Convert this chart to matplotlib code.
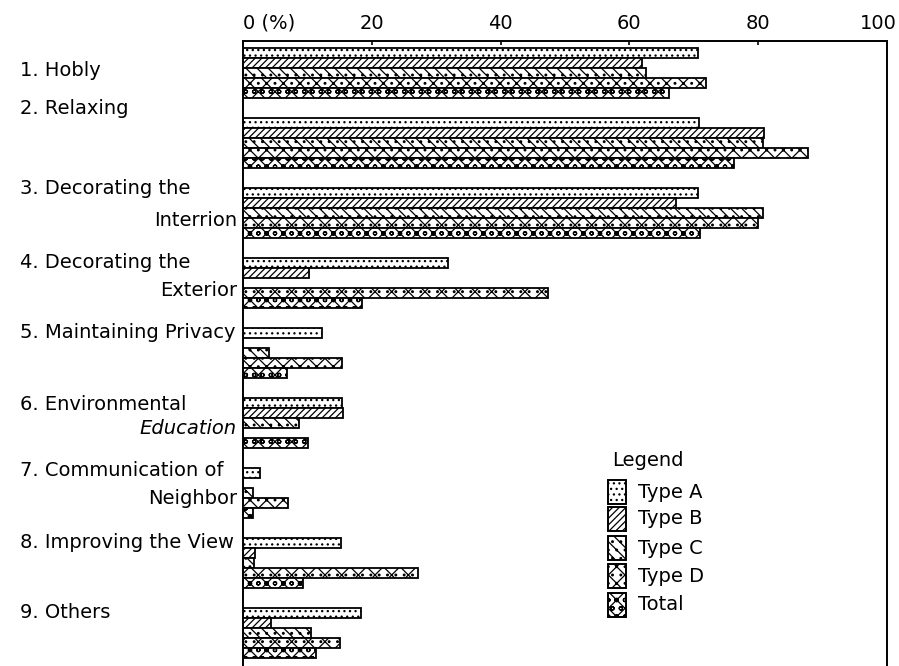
import numpy as np
import matplotlib.pyplot as plt
from matplotlib.transforms import ScaledTranslation

plt.rcParams['font.family'] = ['DejaVu Sans']
plt.rcParams['hatch.linewidth'] = 0.9

categories = ["Hobly", "Relaxing", "Decorating the Interrion", "Decorating the Exterior",
              "Maintaining Privacy", "Environmental Education", "Communication of Neighbor",
              "Improving the View", "Others"]
series = ["Type A", "Type B", "Type C", "Type D", "Total"]

type_a = [70.7, 70.8, 70.7, 31.8, 12.2, 15.4, 2.6, 15.2, 18.4]
type_b = [62.0, 80.9, 67.2, 10.3, 0.0, 15.6, 0.0, 1.9, 4.4]
type_c = [62.5, 80.8, 80.8, 0.0, 4.0, 8.7, 1.6, 1.7, 10.6]
type_d = [71.9, 87.8, 79.9, 47.4, 15.4, 0.0, 7.0, 27.2, 15.0]
total = [66.1, 76.3, 71.0, 18.5, 6.9, 10.1, 1.5, 9.3, 11.4]

hatches = ['...', '/////', '\\\\\\..', 'xx..', 'xxoo']

fig = plt.figure(figsize=(8.99, 6.66), dpi=100)
ax = fig.add_axes([243/899, 0, (887-243)/899, 625/666])

group_gap = 7
values = [type_a, type_b, type_c, type_d, total]
for j, vals in enumerate(values):
    y = np.arange(len(categories)) * group_gap + j
    ax.barh(y, vals, height=0.95, color='white', edgecolor='black',
            linewidth=1.3, hatch=hatches[j])

ax.set_xlim(0, 100)
ax.set_ylim(61.3, -1.2)
ax.set_yticks([])
ax.xaxis.tick_top()
ax.set_xticks([0, 20, 40, 60, 80, 100])
ax.set_xticklabels(["0 (%)", "20", "40", "60", "80", "100"], fontsize=14)
ax.tick_params(axis='x', direction='in', length=3, width=1.2, pad=6)
xlabels = ax.get_xticklabels()
xlabels[0].set_horizontalalignment('left')
xlabels[-1].set_horizontalalignment('right')
xlabels[-1].set_transform(xlabels[-1].get_transform() + ScaledTranslation(0.1, 0, fig.dpi_scale_trans))
for s in ['left', 'top', 'right']:
    ax.spines[s].set_linewidth(1.4)
ax.spines['bottom'].set_visible(False)

# category labels: (first line, second line, y of first line, y of second line)
label_lines = [
    ("1. Hobly", None, 1.7, None),
    ("2. Relaxing", None, 5.5, None),
    ("3. Decorating the", "Interrion", 13.5, 16.7),
    ("4. Decorating the", "Exterior", 21.0, 23.8),
    ("5. Maintaining Privacy", None, 28.0, None),
    ("6. Environmental", "Education", 35.1, 37.5),
    ("7. Communication of", "Neighbor", 41.7, 44.5),
    ("8. Improving the View", None, 49.0, None),
    ("9. Others", None, 55.9, None),
]
trans = ax.get_yaxis_transform()
for first, second, y1, y2 in label_lines:
    ax.text(-223/644, y1, first, transform=trans, ha='left', va='center', fontsize=14)
    if second:
        style = 'italic' if second == "Education" else 'normal'
        ax.text(-6/644, y2, second, transform=trans, ha='right', va='center',
                fontsize=14, style=style)

# legend
fig.text(612/899, 1 - 461/666, "Legend", fontsize=14, ha='left', va='center')
for j, name in enumerate(series):
    yc = [492, 519, 548, 576, 605][j]
    fig.patches.append(plt.Rectangle((608/899, 1 - (yc + 12)/666), 18/899, 24/666,
                                     transform=fig.transFigure, facecolor='white',
                                     edgecolor='black', linewidth=1.4, hatch=hatches[j]))
    fig.text(638/899, 1 - yc/666, name, fontsize=14, ha='left', va='center')

fig.savefig("out.png", dpi=100)
